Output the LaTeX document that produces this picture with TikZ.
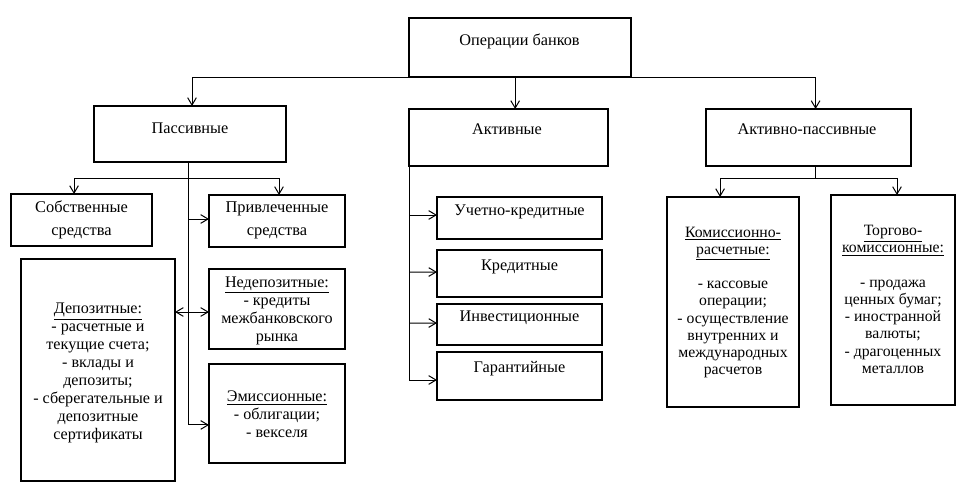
\documentclass[tikz,border=0pt]{standalone}
\usepackage{fontspec}
\setmainfont{Liberation Serif}
\usetikzlibrary{arrows.meta,calc}
\newcommand{\bxnode}[5]{%
  \node[boxst, minimum width={(#4-#2)*0.75pt}, minimum height={(#5-#3)*0.75pt}] (#1) at ({(#2+#4)/2},{(#3+#5)/2}) {};}
\tikzset{
  boxst/.style={draw, line width=0.8pt, inner sep=0pt, outer sep=0pt},
  txt/.style={align=center, inner sep=0pt, font=\fontsize{12.2}{13.5}\selectfont},
  txtl/.style={align=center, inner sep=0pt, font=\fontsize{12.1}{13.5}\selectfont},
  txtr/.style={align=center, inner sep=0pt, font=\fontsize{11.8}{12.9}\selectfont},
  ln/.style={line width=0.75pt},
  arr/.style={line width=0.75pt, -{Straight Barb[length=5.5pt,width=6.5pt,line width=0.75pt]}},
  arrb/.style={line width=0.75pt, {Straight Barb[length=5.5pt,width=6.5pt,line width=0.75pt]}-{Straight Barb[length=5.5pt,width=6.5pt,line width=0.75pt]}}
}
\begin{document}
\begin{tikzpicture}[x=0.75pt,y=-0.75pt]
\useasboundingbox[fill=white] (0,0) rectangle (969,492);
% boxes
\bxnode{top}{409}{18}{631}{77}
\bxnode{pas}{94}{106}{286}{162}
\bxnode{akt}{409}{109}{608}{166}
\bxnode{ap}{706}{109}{911}{166}
\bxnode{sob}{11}{194}{152}{246}
\bxnode{pri}{209}{195}{345}{247}
\bxnode{dep}{21}{259}{175}{481}
\bxnode{ned}{209}{269}{345}{349}
\bxnode{emi}{209}{364}{345}{463}
\bxnode{uch}{437}{197}{602}{239}
\bxnode{kre}{437}{250}{602}{297}
\bxnode{inv}{437}{304}{602}{345}
\bxnode{gar}{437}{352}{602}{400}
\bxnode{kom}{667}{197}{799}{407}
\bxnode{tor}{831}{195}{955}{405}
% texts
\node[txt] (ttop) at (519.5,41) {Операции банков};
\node[txt] (tpas) at (190,128) {Пассивные};
\node[txt] (takt) at (507,129) {Активные};
\node[txt] (tap) at (807,129) {Активно-пассивные};
\node[txtl, font=\fontsize{12.3}{17}\selectfont] (tsob) at (81.5,220) {Собственные\\средства};
\node[txtl, font=\fontsize{12.3}{17}\selectfont] (tpri) at (277,220.5) {Привлеченные\\средства};
\node[txtl] (tdep) at (98,373) {\underline{Депозитные:}\\- расчетные и\\текущие счета;\\- вклады и\\депозиты;\\- сберегательные и\\депозитные\\сертификаты};
\node[txtl] (tned) at (277,311) {\underline{Недепозитные:}\\- кредиты\\межбанковского\\рынка};
\node[txtl] (temi) at (277,414.5) {\underline{Эмиссионные:}\\- облигации;\\- векселя};
\node[txt] (tuch) at (519.5,212) {Учетно-кредитные};
\node[txt] (tkre) at (519.5,267) {Кредитные};
\node[txt] (tinv) at (519.5,318) {Инвестиционные};
\node[txt] (tgar) at (519.5,369) {Гарантийные};
\node[txtr] (tkom) at (733,302.5) {\underline{Комиссионно-}\\\underline{расчетные:}\\[12.9pt]- кассовые\\операции;\\- осуществление\\внутренних и\\международных\\расчетов};
\node[txtr] (ttor) at (893,299.5) {\underline{Торгово-}\\\underline{комиссионные:}\\[12.9pt]- продажа\\ценных бумаг;\\- иностранной\\валюты;\\- драгоценных\\металлов};
% top level connectors
\draw[arr] (top.south) -| ([xshift=1.5pt]pas.north);
\draw[arr] (top.south) -| ([xshift=5.3pt]ap.north);
\draw[arr] ([xshift=5pt]akt.north |- top.south) -- ([xshift=5pt]akt.north);
% passive branch
\draw[ln] ([xshift=-1.5pt]pas.south) -- ([xshift=-1.5pt,yshift=-12pt]pas.south) coordinate (pj);
\draw[arr] (pj) -| ([xshift=-5.6pt]sob.north);
\draw[arr] (pj) -| ([xshift=1.5pt]pri.north);
\draw[arr] (pj) |- ([yshift=1.5pt]pri.west);
\draw[arr] (pj) |- ([yshift=-8.6pt]emi.west);
\draw[arrb] ($(dep.east |- ned.west)+(0,3)$) -- ([yshift=-2.25pt]ned.west);
% active branch
\draw[ln] (akt.south west) -- ([yshift=-160.5pt]akt.south west) coordinate (aj);
\draw[arr] ($(aj |- uch.west)+(0,-3)$) -- ([yshift=2.25pt]uch.west);
\draw[arr] ($(aj |- kre.west)+(0,-1.5)$) -- ([yshift=1.1pt]kre.west);
\draw[arr] ($(aj |- inv.west)+(0,-1.5)$) -- ([yshift=1.1pt]inv.west);
\draw[arr] (aj) -- (aj -| gar.west);
% active-passive branch
\draw[ln] ([xshift=5.3pt]ap.south) -- ([xshift=5.3pt,yshift=-9pt]ap.south) coordinate (apj);
\draw[arr] (apj) -| ([xshift=-9.7pt]kom.north);
\draw[arr] (apj) -| ([xshift=3pt]tor.north);
\end{tikzpicture}
\end{document}
